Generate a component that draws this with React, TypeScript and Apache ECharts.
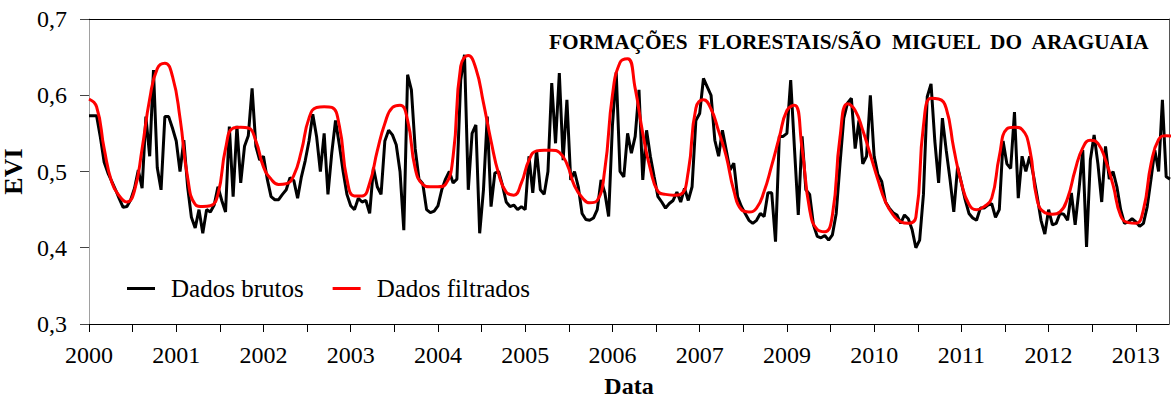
import React, { useEffect, useRef } from "react";
import * as echarts from "echarts";

// Tick labels of the x axis (one per year step; the original skips 2008)
const yearLabels = ["2000", "2001", "2002", "2003", "2004", "2005", "2006", "2007", "2009", "2010", "2011", "2012", "2013"];

// Raw EVI (16-day composites, 23 per year)
const raw2000 = [0.573, 0.573, 0.573, 0.545, 0.512, 0.498, 0.487, 0.476, 0.464, 0.453, 0.454, 0.463, 0.478, 0.502, 0.478, 0.572, 0.52, 0.633, 0.505, 0.476, 0.572, 0.572, 0.557];
const raw2001 = [0.54, 0.5, 0.541, 0.48, 0.44, 0.426, 0.45, 0.419, 0.45, 0.447, 0.456, 0.48, 0.462, 0.447, 0.559, 0.467, 0.56, 0.485, 0.533, 0.547, 0.609, 0.533, 0.515];
const raw2002 = [0.52, 0.49, 0.467, 0.463, 0.463, 0.47, 0.476, 0.492, 0.488, 0.465, 0.493, 0.514, 0.54, 0.575, 0.546, 0.5, 0.55, 0.47, 0.524, 0.567, 0.535, 0.5, 0.47];
const raw2003 = [0.455, 0.45, 0.465, 0.46, 0.462, 0.445, 0.505, 0.48, 0.47, 0.54, 0.554, 0.548, 0.535, 0.5, 0.423, 0.627, 0.607, 0.53, 0.49, 0.484, 0.45, 0.446, 0.448];
const raw2004 = [0.455, 0.476, 0.49, 0.5, 0.485, 0.49, 0.62, 0.653, 0.476, 0.55, 0.561, 0.419, 0.476, 0.572, 0.454, 0.498, 0.5, 0.482, 0.46, 0.454, 0.456, 0.45, 0.454];
const raw2005 = [0.45, 0.52, 0.472, 0.528, 0.476, 0.47, 0.5, 0.616, 0.537, 0.629, 0.515, 0.594, 0.489, 0.5, 0.48, 0.445, 0.437, 0.436, 0.439, 0.45, 0.489, 0.472, 0.441];
const raw2006 = [0.56, 0.63, 0.5, 0.493, 0.55, 0.524, 0.546, 0.607, 0.489, 0.554, 0.52, 0.493, 0.467, 0.46, 0.452, 0.458, 0.462, 0.473, 0.46, 0.478, 0.462, 0.48, 0.567];
const raw2007 = [0.576, 0.622, 0.611, 0.6, 0.541, 0.52, 0.554, 0.528, 0.502, 0.511, 0.467, 0.454, 0.445, 0.436, 0.432, 0.436, 0.445, 0.441, 0.472, 0.472, 0.408, 0.546, 0.546];
const raw2008 = [0.55, 0.62, 0.53, 0.443, 0.546, 0.476, 0.47, 0.43, 0.415, 0.413, 0.416, 0.41, 0.417, 0.445, 0.51, 0.57, 0.59, 0.596, 0.53, 0.567, 0.51, 0.52, 0.6];
const raw2009 = [0.52, 0.496, 0.487, 0.46, 0.452, 0.446, 0.443, 0.432, 0.443, 0.438, 0.424, 0.4, 0.41, 0.47, 0.598, 0.615, 0.54, 0.485, 0.57, 0.528, 0.49, 0.447, 0.506];
const raw2010 = [0.485, 0.463, 0.445, 0.439, 0.436, 0.452, 0.452, 0.456, 0.458, 0.44, 0.45, 0.54, 0.51, 0.504, 0.578, 0.465, 0.52, 0.5, 0.52, 0.495, 0.467, 0.436, 0.418];
const raw2011 = [0.45, 0.43, 0.432, 0.445, 0.444, 0.436, 0.472, 0.43, 0.476, 0.528, 0.401, 0.515, 0.548, 0.51, 0.46, 0.533, 0.49, 0.5, 0.48, 0.45, 0.432, 0.434, 0.438];
const raw2012 = [0.434, 0.428, 0.432, 0.454, 0.49, 0.528, 0.5, 0.594, 0.493, 0.49];

// Filtered EVI (sampled every 2 composites)
const filtered = [
  0.595, 0.585, 0.53, 0.486, 0.468, 0.46, 0.475, 0.53, 0.595, 0.635,
  0.642, 0.625, 0.57, 0.492, 0.457, 0.454, 0.455, 0.47, 0.53, 0.557,
  0.558, 0.557, 0.54, 0.506, 0.49, 0.483, 0.484, 0.495, 0.527, 0.57,
  0.584, 0.585, 0.584, 0.56, 0.49, 0.468, 0.468, 0.485, 0.527, 0.563,
  0.584, 0.587, 0.567, 0.504, 0.483, 0.48, 0.48, 0.483, 0.52, 0.638,
  0.652, 0.635, 0.59, 0.54, 0.497, 0.473, 0.469, 0.485, 0.515, 0.527,
  0.528, 0.528, 0.525, 0.51, 0.481, 0.466, 0.459, 0.462, 0.503, 0.6,
  0.643, 0.648, 0.609, 0.55, 0.503, 0.474, 0.47, 0.469, 0.47, 0.5,
  0.583, 0.594, 0.582, 0.553, 0.52, 0.475, 0.45, 0.447, 0.452, 0.474,
  0.508, 0.545, 0.58, 0.587, 0.53, 0.45, 0.424, 0.421, 0.443, 0.545,
  0.589, 0.58, 0.554, 0.522, 0.489, 0.46, 0.443, 0.434, 0.432, 0.44,
  0.56, 0.596, 0.595, 0.583, 0.53, 0.485, 0.457, 0.45, 0.454, 0.465,
  0.52, 0.556, 0.558, 0.555, 0.53, 0.462, 0.446, 0.444, 0.447, 0.465,
  0.502, 0.531, 0.541, 0.537, 0.515, 0.482, 0.442, 0.433, 0.432, 0.45,
  0.51, 0.542, 0.547, 0.546,
];

const rawAll = [...raw2000, ...raw2001, ...raw2002, ...raw2003, ...raw2004, ...raw2005, ...raw2006, ...raw2007, ...raw2008, ...raw2009, ...raw2010, ...raw2011, ...raw2012];

const FONT = "'Liberation Serif', 'Times New Roman', serif";

export default function App() {
  const ref = useRef<HTMLDivElement>(null);
  useEffect(() => {
    if (!ref.current) return;
    const chart = echarts.init(ref.current, null, { renderer: "svg" });
    const tickVals: number[] = [];
    for (let k = 0; k <= 24; k++) tickVals.push(k / 2);
    const labelVals = yearLabels.map((_, i) => i);
    chart.setOption({
      animation: false,
      backgroundColor: "#fff",
      title: {
        text: "FORMAÇÕES  FLORESTAIS/SÃO  MIGUEL  DO  ARAGUAIA",
        right: 21,
        top: 31,
        padding: 0,
        textStyle: { fontFamily: FONT, fontSize: 21.3, fontWeight: "bold", color: "#000" },
      },
      legend: {
        left: 127,
        top: 276,
        padding: 0,
        itemWidth: 28,
        itemHeight: 3,
        itemGap: 29,
        icon: "rect",
        data: ["Dados brutos", "Dados filtrados"],
        textStyle: { fontFamily: FONT, fontSize: 25, color: "#000", padding: [0, 0, 0, 11] },
      },
      grid: {
        left: 89,
        right: 3,
        top: 19,
        bottom: 77,
        show: false,
        outerBoundsMode: "none",
        containLabel: false,
      },
      xAxis: [
        {
          type: "value",
          min: 0,
          max: 12.38,
          interval: 0.5,
          name: "Data",
          nameLocation: "middle",
          nameGap: 50,
          nameTextStyle: { fontFamily: FONT, fontSize: 24, fontWeight: "bold", color: "#000" },
          axisLine: { show: true, lineStyle: { color: "#000", width: 1 } },
          axisTick: { show: true, length: 8, inside: false, lineStyle: { color: "#000" }, customValues: tickVals },
          axisLabel: {
            margin: 19,
            fontFamily: FONT,
            fontSize: 24,
            color: "#000",
            customValues: labelVals,
            formatter: (v: number) => yearLabels[Math.round(v)] ?? "",
          },
          splitLine: { show: false },
        },
        {
          type: "value",
          position: "top",
          min: 0,
          max: 12.38,
          axisLine: { show: true, onZero: false, lineStyle: { color: "#000", width: 1 } },
          axisTick: { show: false },
          axisLabel: { show: false },
          splitLine: { show: false },
        },
      ],
      yAxis: [
        {
          type: "value",
          min: 0.3,
          max: 0.7,
          interval: 0.1,
          name: "EVI",
          nameLocation: "middle",
          nameGap: 62,
          nameTextStyle: { fontFamily: FONT, fontSize: 26, fontWeight: "bold", color: "#000" },
          axisLine: { show: true, onZero: false, lineStyle: { color: "#a0a0a0", width: 1 } },
          axisTick: { show: true, length: 9, inside: false, lineStyle: { color: "#444" } },
          axisLabel: {
            margin: 22,
            fontFamily: FONT,
            fontSize: 24,
            color: "#000",
            formatter: (v: number) => v.toFixed(1).replace(".", ","),
          },
          splitLine: { show: false },
        },
        {
          type: "value",
          position: "right",
          min: 0.3,
          max: 0.7,
          axisLine: { show: true, onZero: false, lineStyle: { color: "#555", width: 1 } },
          axisTick: { show: false },
          axisLabel: { show: false },
          splitLine: { show: false },
        },
      ],
      series: [
        {
          name: "Dados brutos",
          type: "line",
          xAxisIndex: 0,
          yAxisIndex: 0,
          data: rawAll.map((v, i) => [i / 23, v]),
          symbol: "none",
          clip: true,
          lineStyle: { color: "#000", width: 3 },
          itemStyle: { color: "#000" },
        },
        {
          name: "Dados filtrados",
          type: "line",
          xAxisIndex: 0,
          yAxisIndex: 0,
          data: filtered.map((v, i) => [(2 * i) / 23, v]),
          symbol: "none",
          smooth: 0.5,
          clip: true,
          lineStyle: { color: "#ff0000", width: 3 },
          itemStyle: { color: "#ff0000" },
        },
      ],
    });
    return () => chart.dispose();
  }, []);
  return (
    <div
      ref={ref}
      style={{ position: "fixed", left: 0, top: 0, width: 1172, height: 401, background: "#fff" }}
    />
  );
}
